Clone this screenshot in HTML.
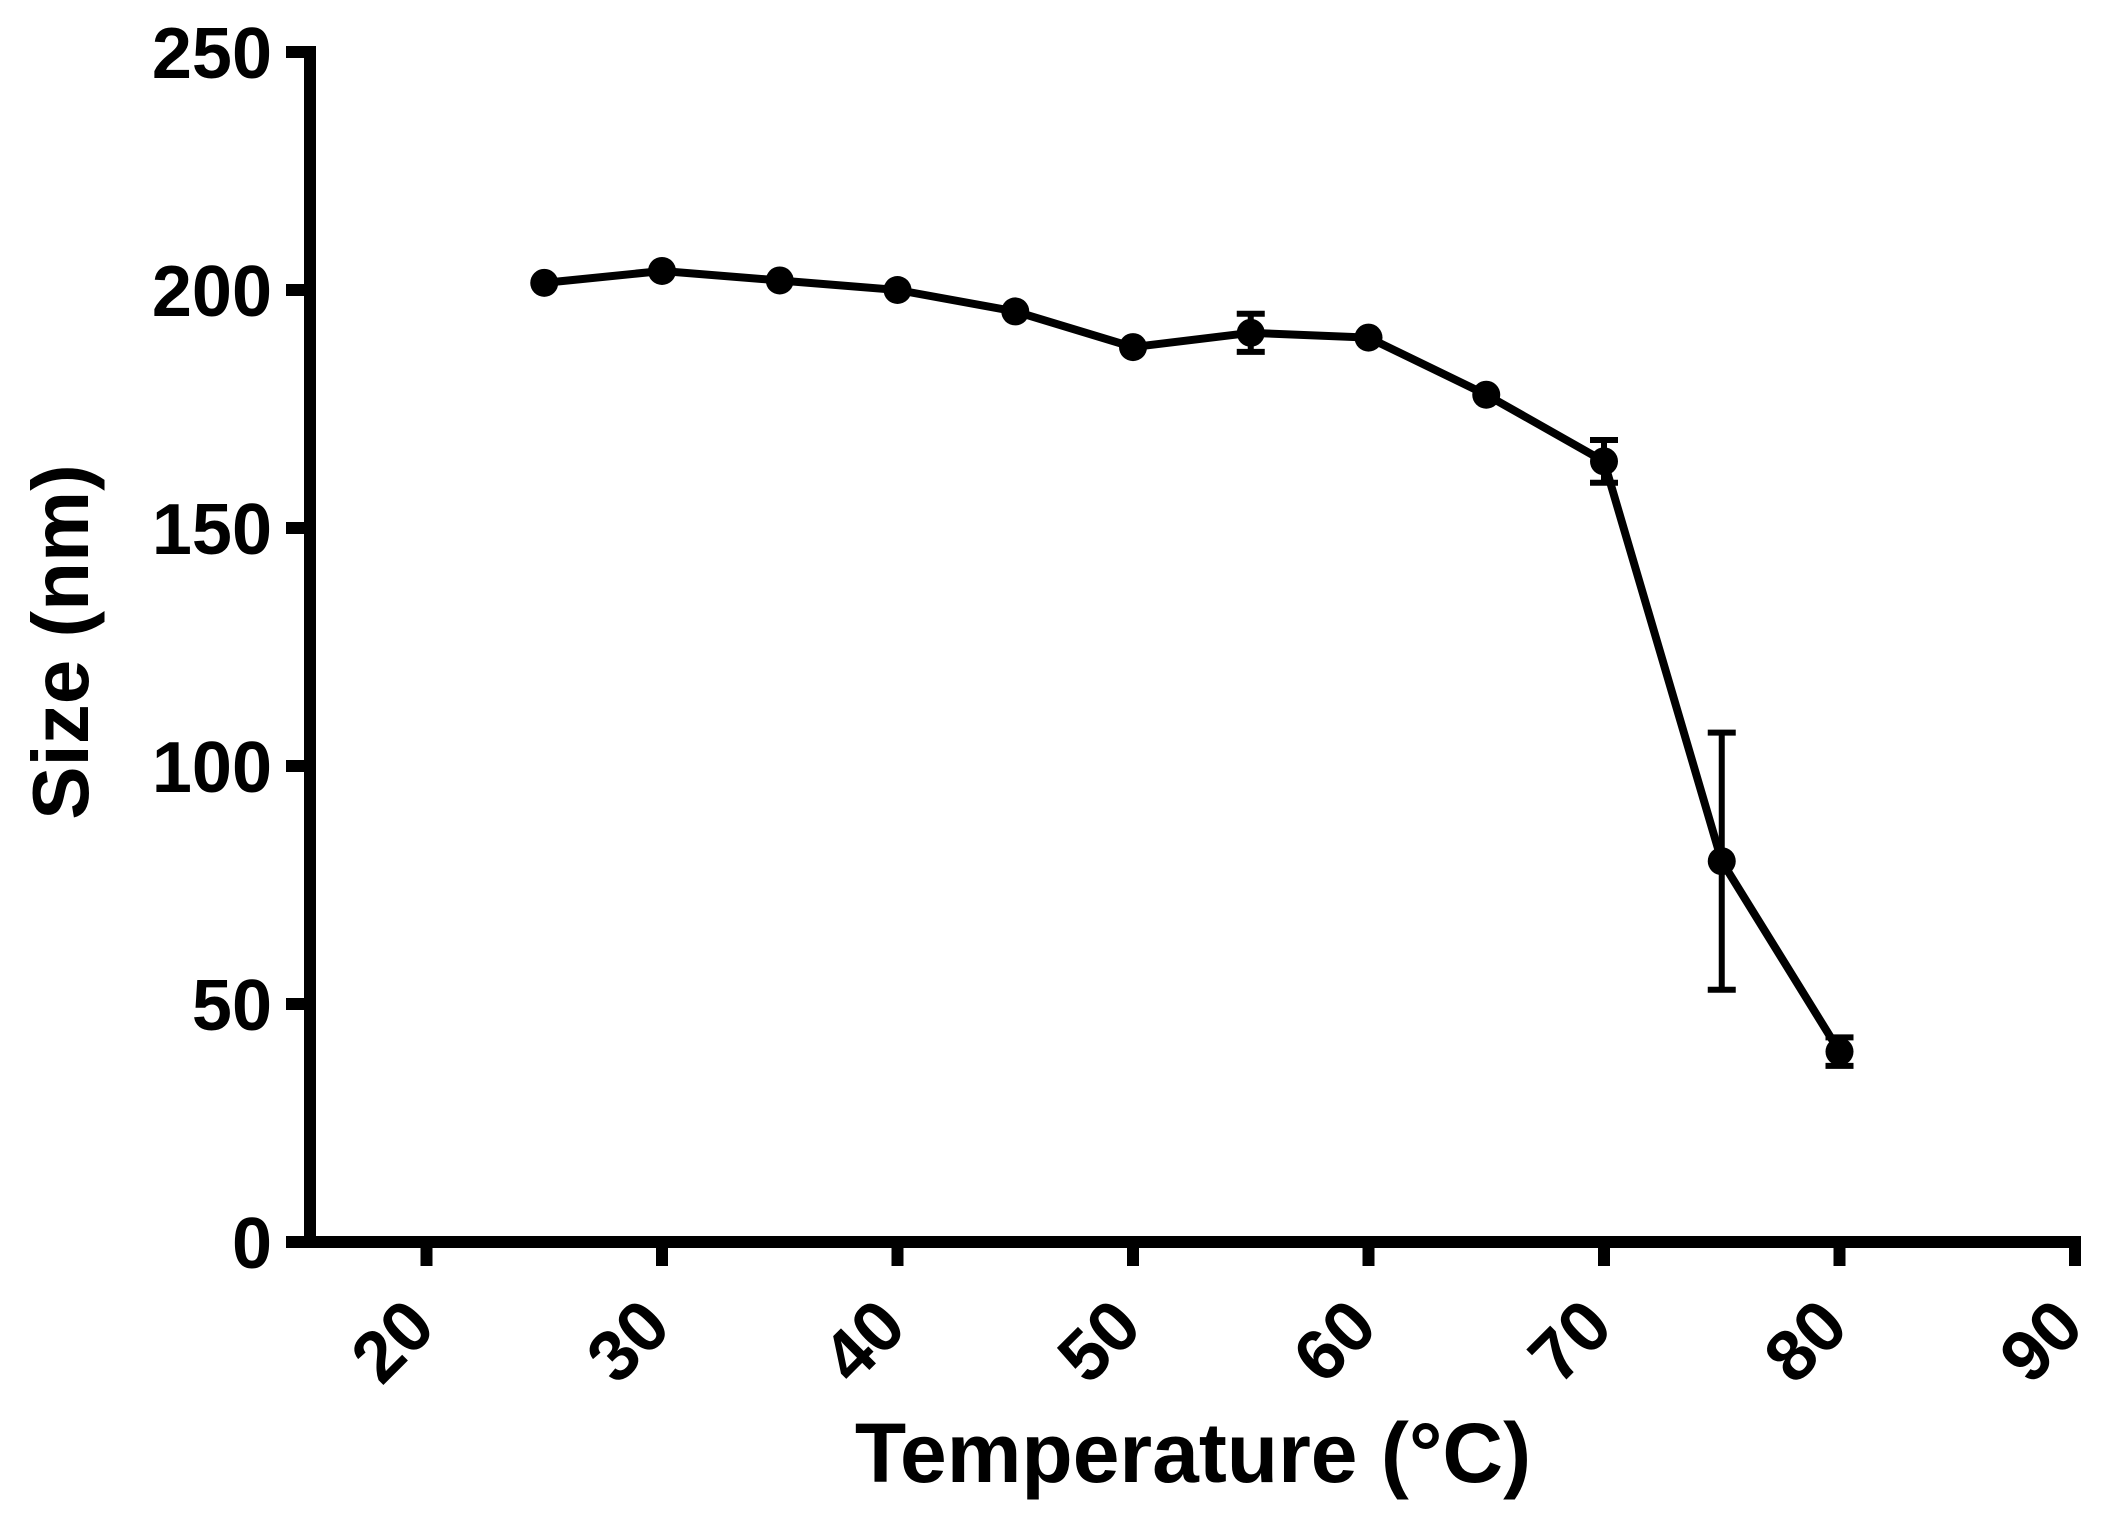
<!DOCTYPE html>
<html><head><meta charset="utf-8"><style>
html,body{margin:0;padding:0;background:#fff;}
svg{display:block;}
text{font-family:"Liberation Sans",Arial,sans-serif;font-weight:bold;fill:#000;}
</style></head><body>
<svg id="chart" width="2101" height="1531" viewBox="0 0 2101 1531" xmlns="http://www.w3.org/2000/svg">
<g id="axes"></g>
<g id="series"></g>
<text x="0" y="0" font-size="80" text-anchor="middle" transform="translate(88,642) rotate(-90)">Size (nm)</text>
<text x="1193" y="1482" font-size="84" text-anchor="middle">Temperature (°C)</text>
</svg>
<script>
const temps = [25,30,35,40,45,50,55,60,65,70,75,80];
const sizes = [201.5,204,202,200,195.5,188,191,190,178,164,80,40];
const errors = [1,1,1,1,1,1,4,1,1,4.5,27,3];
const xTicks = [20,30,40,50,60,70,80,90];
const yTicks = [0,50,100,150,200,250];

const NS = "http://www.w3.org/2000/svg";
const X0 = 426.5, XPER = 23.55, Y0 = 1242, YPER = 4.76;
function sx(v){ return X0 + (v-20)*XPER; }
function sy(v){ return Y0 - v*YPER; }
function mk(tag, attrs, parent){
  const e = document.createElementNS(NS, tag);
  for (const k in attrs) e.setAttribute(k, attrs[k]);
  parent.appendChild(e); return e;
}
const axes = document.getElementById('axes');
const series = document.getElementById('series');

const yAxis = mk('line',{x1:310,y1:sy(250)-6,x2:310,y2:Y0+6,stroke:'#000','stroke-width':12},axes);


const xAxis = mk('line',{x1:304,y1:Y0,x2:sx(90)+6,y2:Y0,stroke:'#000','stroke-width':12},axes);



yTicks.forEach(t=>{
  const l = mk('line',{x1:286,y1:sy(t),x2:310,y2:sy(t),stroke:'#000','stroke-width':12},axes);
  
  
  const tx = mk('text',{x:272,y:sy(t)+26,'font-size':72,'text-anchor':'end'},axes);
  tx.textContent = t;
  
  
});
xTicks.forEach(t=>{
  const l = mk('line',{x1:sx(t),y1:Y0,x2:sx(t),y2:Y0+24,stroke:'#000','stroke-width':12},axes);
  
  
  const cx = sx(t)-35, cy = Y0+98;
  const tx = mk('text',{x:0,y:26,'font-size':72,'text-anchor':'middle',transform:`translate(${cx},${cy}) rotate(-45)`},axes);
  tx.textContent = t;
  
  
});

const pts = temps.map((t,i)=>sx(t)+','+sy(sizes[i])).join(' ');
const line = mk('polyline',{points:pts,fill:'none',stroke:'#000','stroke-width':8,'stroke-linejoin':'round'},series);



temps.forEach((t,i)=>{
  const x = sx(t), yt = sy(sizes[i]+errors[i]), yb = sy(sizes[i]-errors[i]);
  if (errors[i] > 1.5){
    const eb = mk('path',{d:`M${x},${yt}V${yb}M${x-14},${yt}H${x+14}M${x-14},${yb}H${x+14}`,stroke:'#000','stroke-width':6,fill:'none'},series);
    
    
  }
  const c = mk('circle',{cx:x,cy:sy(sizes[i]),r:14,fill:'#000'},series);
  
  
});
</script>
</body></html>
